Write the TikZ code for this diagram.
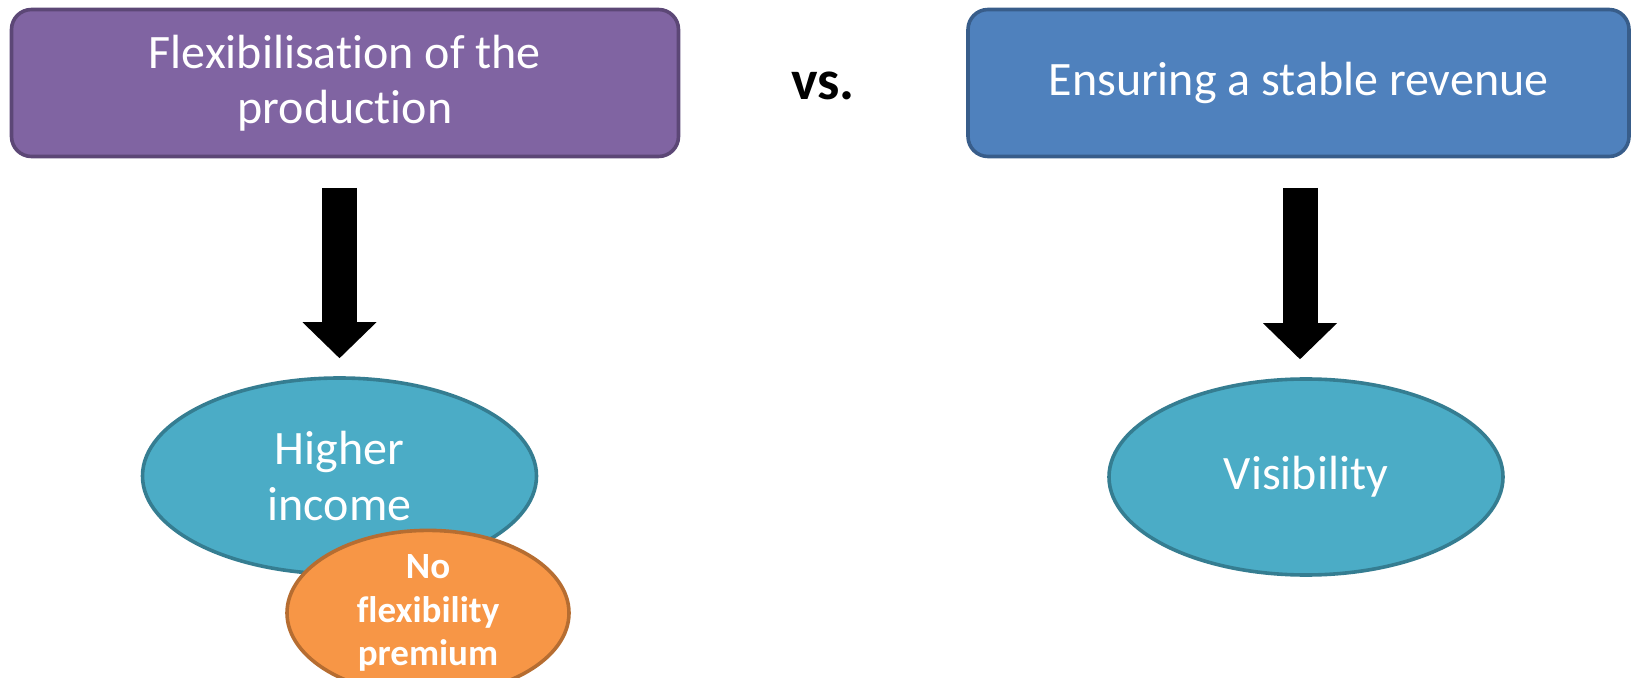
\documentclass[tikz,border=0pt]{standalone}
\usepackage{fontspec}
\setmainfont{Carlito}[Ligatures=NoCommon]
\usetikzlibrary{arrows.meta,positioning,shapes.geometric}
\definecolor{flexpurple}{HTML}{8064A2}
\definecolor{flexpurpleline}{HTML}{5C4776}
\definecolor{revblue}{HTML}{4F81BD}
\definecolor{revblueline}{HTML}{385D8A}
\definecolor{goalteal}{HTML}{4BACC6}
\definecolor{goaltealline}{HTML}{357D91}
\definecolor{premorange}{HTML}{F79646}
\definecolor{premorangeline}{HTML}{B66D31}

\begin{document}
\begin{tikzpicture}[
  x=0.5pt, y=-0.5pt,
  choicebox/.style={rounded corners=10pt, line width=1.8pt, minimum height=73.5pt,
                    align=center, text=white, font=\fontsize{24}{27.5}\selectfont},
  goal/.style={ellipse, draw=goaltealline, fill=goalteal, line width=1.8pt, inner sep=0pt,
               minimum width=197pt, minimum height=98pt, align=center, text=white,
               font=\fontsize{24}{28}\selectfont},
  caveat/.style={ellipse, draw=premorangeline, fill=premorange, line width=1.8pt, inner sep=0pt,
                 minimum width=141pt, minimum height=75pt, align=center, text=white,
                 font=\bfseries\fontsize{18.5}{21.75}\selectfont},
  blockarr/.style={-{Triangle[width=37pt, length=18pt, line width=0pt]}, line width=17.5pt,
                   shorten <=14.75pt, shorten >=9pt}
]
  \useasboundingbox (0,0) rectangle (1633,678);
  \clip (0,0) rectangle (1633,678);

  \node[choicebox, fill=flexpurple, draw=flexpurpleline, minimum width=333.5pt] (flex) at (345,83)
    {Flexibilisation of the\\production};
  \node[choicebox, fill=revblue, draw=revblueline, minimum width=330.5pt] (revenue) at (1298.5,83)
    {Ensuring a stable revenue};
  \node[font=\bfseries\fontsize{28}{32}\selectfont] (vs) at (823,86) {vs.};

  \node[goal] (income) at (339.5,476) {Higher\\income};
  \node[goal] (visib) at (1306,477) {Visibility};
  \node[caveat] (nopremium) at (428,613) {No\\flexibility\\premium};

  \draw[blockarr] (income.north |- flex.south) -- (income.north);
  \draw[blockarr] ([xshift=-3pt]visib.north |- revenue.south) -- ([xshift=-3pt]visib.north);
\end{tikzpicture}
\end{document}
